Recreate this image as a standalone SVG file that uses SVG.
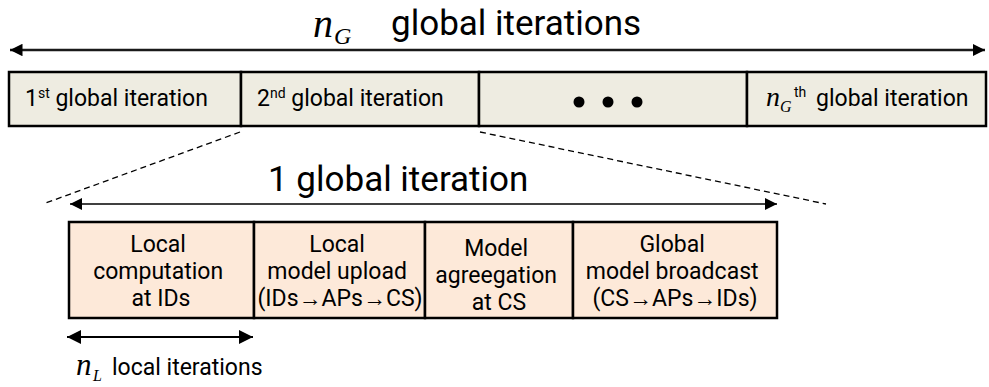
<svg xmlns="http://www.w3.org/2000/svg" width="989" height="387" viewBox="0 0 989 387">
  <style>
    .t { font-family: Roboto, "Noto Sans", sans-serif; fill: #000; }
    .m { font-family: "Liberation Serif", "DejaVu Serif", serif; font-style: italic; fill: #000; }
    .top { fill: #EEECE1; stroke: #000; stroke-width: 2.5; }
    .sub { fill: #FDE9D9; stroke: #000; stroke-width: 2.5; }
    .dash { stroke: #000; stroke-width: 1.3; stroke-dasharray: 6 4; fill: none; }
  </style>
  <defs>
    <marker id="ah" viewBox="0 0 10 10" refX="10" refY="5" markerWidth="5" markerHeight="5" orient="auto-start-reverse" markerUnits="strokeWidth">
      <path d="M0,0 L10,5 L0,10 Z" fill="#000"/>
    </marker>
    <marker id="ahs" viewBox="0 0 10 10" refX="10" refY="5" markerWidth="8" markerHeight="8" orient="auto-start-reverse" markerUnits="strokeWidth">
      <path d="M0,0 L10,5 L0,10 Z" fill="#000"/>
    </marker>
  </defs>

  <!-- overall span label -->
  <g id="title">
    <text class="m" x="313" y="37" font-size="40">n</text>
    <text class="m" x="334" y="44" font-size="24">G</text>
    <text class="t" x="391" y="35" font-size="35">global iterations</text>
  </g>

  <!-- timeline of global iterations -->
  <g id="iter1">
    <rect class="top" x="9" y="72" width="232" height="54"/>
    <text class="t" x="25" y="106" font-size="23">1<tspan font-size="14" dy="-8">st</tspan><tspan dy="8"> global iteration</tspan></text>
  </g>
  <g id="iter2">
    <rect class="top" x="241" y="72" width="238" height="54"/>
    <text class="t" x="257" y="106" font-size="23">2<tspan font-size="14" dy="-8">nd</tspan><tspan dy="8"> global iteration</tspan></text>
  </g>
  <g id="iterDots">
    <rect class="top" x="479" y="72" width="268" height="54"/>
    <circle cx="579" cy="102" r="5.5"/>
    <circle cx="608" cy="102" r="5.5"/>
    <circle cx="637" cy="102" r="5.5"/>
  </g>
  <g id="iterLast">
    <rect class="top" x="747" y="72" width="239" height="54"/>
    <text class="m" x="766" y="106" font-size="28">n</text>
    <text class="m" x="780" y="112" font-size="16">G</text>
    <text class="t" x="794" y="97" font-size="14">th</text>
    <text class="t" x="816" y="106" font-size="23">global iteration</text>
  </g>

  <!-- one global iteration label -->
  <g id="oneIterLabel">
    <text class="t" x="268" y="191" font-size="35">1 global iteration</text>
  </g>

  <!-- phases of one global iteration -->
  <g id="phase1">
    <rect class="sub" x="69" y="222" width="185" height="96"/>
    <text class="t" font-size="23" text-anchor="middle">
      <tspan x="161" y="252">Local</tspan>
      <tspan x="161" y="279">computation</tspan>
      <tspan x="161" y="306">at IDs</tspan>
    </text>
  </g>
  <g id="phase2">
    <rect class="sub" x="254" y="222" width="171" height="96"/>
    <text class="t" font-size="23" text-anchor="middle">
      <tspan x="340" y="252">Local</tspan>
      <tspan x="340" y="279">model upload</tspan>
      <tspan x="340" y="306">(IDs→APs→CS)</tspan>
    </text>
  </g>
  <g id="phase3">
    <rect class="sub" x="425" y="222" width="148" height="96"/>
    <text class="t" font-size="23" text-anchor="middle">
      <tspan x="499" y="256">Model</tspan>
      <tspan x="499" y="283">agreegation</tspan>
      <tspan x="499" y="310">at CS</tspan>
    </text>
  </g>
  <g id="phase4">
    <rect class="sub" x="573" y="222" width="204" height="96"/>
    <text class="t" font-size="23" text-anchor="middle">
      <tspan x="675" y="252">Global</tspan>
      <tspan x="675" y="279">model broadcast</tspan>
      <tspan x="675" y="306">(CS→APs→IDs)</tspan>
    </text>
  </g>

  <!-- local iterations label -->
  <g id="localLabel">
    <text class="m" x="76" y="375" font-size="31">n</text>
    <text class="m" x="93" y="381" font-size="16">L</text>
    <text class="t" x="112" y="375" font-size="23">local iterations</text>
  </g>

  <!-- connectors -->
  <g id="connectors">
    <line x1="10" y1="50" x2="985" y2="50" stroke="#1a1a1a" stroke-width="2.5" marker-start="url(#ah)" marker-end="url(#ah)"/>
    <line x1="70" y1="204" x2="777" y2="204" stroke="#000" stroke-width="1.5" marker-start="url(#ahs)" marker-end="url(#ahs)"/>
    <line x1="67" y1="337" x2="253" y2="337" stroke="#000" stroke-width="1.8" marker-start="url(#ahs)" marker-end="url(#ahs)"/>
    <line class="dash" x1="240" y1="132" x2="43" y2="204"/>
    <line class="dash" x1="480" y1="132" x2="826" y2="204"/>
  </g>
</svg>
